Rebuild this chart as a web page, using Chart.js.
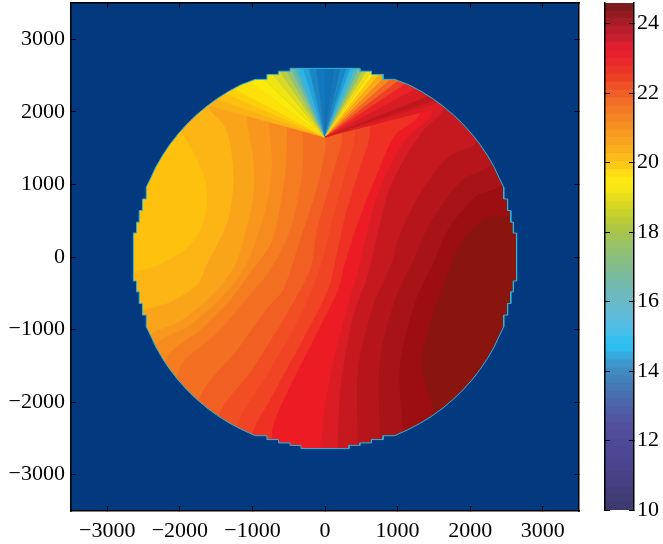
<!DOCTYPE html>
<html>
<head>
<meta charset="utf-8">
<script src="https://cdn.jsdelivr.net/npm/chart.js@4/dist/chart.umd.min.js"></script>
<style>
  html, body { margin: 0; background: #fff; }
  #wrap { position: relative; width: 663px; height: 544px; overflow: hidden; }
  #mapChart { position: absolute; left: 0; top: 0; }
  #barChart { position: absolute; left: 590px; top: 0; }
</style>
</head>
<body>
<div id="wrap">
  <canvas id="mapChart" width="590" height="544"></canvas>
  <canvas id="barChart" width="73" height="544"></canvas>
</div>
<script>
const axisLimit = 3500;
const xTickValues = [-3000, -2000, -1000, 0, 1000, 2000, 3000];
const yTickValues = [-3000, -2000, -1000, 0, 1000, 2000, 3000];
const barTickValues = [10, 12, 14, 16, 18, 20, 22, 24];

// outline of the disc, clockwise from the left, blocky near the axes like the source grid
const discOutline = [
  [-2640,0],[-2640,330],[-2596,330],[-2596,480],[-2560,480],[-2560,640],[-2516,640],[-2516,800],[-2463,800],[-2463,960],
  [-2400,1090],[-2331,1239],[-2239,1399],[-2136,1552],[-2022,1697],[-1899,1834],[-1766,1962],[-1625,2080],[-1476,2189],[-1320,2286],[-1157,2373],
  [-960,2448],[-800,2448],[-800,2516],[-640,2516],[-640,2560],[-480,2560],[-480,2599],
  [480,2599],[480,2560],[640,2560],[640,2516],[800,2516],[800,2448],[960,2448],
  [1157,2373],[1320,2286],[1476,2189],[1625,2080],[1766,1962],[1899,1834],[2022,1697],[2136,1552],[2239,1399],[2331,1239],[2400,1090],
  [2463,960],[2463,800],[2516,800],[2516,640],[2560,640],[2560,480],[2596,480],[2596,330],[2640,330],
  [2640,-330],[2596,-330],[2596,-480],[2560,-480],[2560,-640],[2516,-640],[2516,-800],[2463,-800],[2463,-960],
  [2400,-1090],[2331,-1239],[2239,-1399],[2136,-1552],[2022,-1697],[1899,-1834],[1766,-1962],[1625,-2080],[1476,-2189],[1320,-2286],[1157,-2373],
  [960,-2463],[800,-2463],[800,-2516],[640,-2516],[640,-2562],[480,-2562],[480,-2596],[330,-2596],[330,-2640],
  [-330,-2640],[-330,-2596],[-480,-2596],[-480,-2562],[-640,-2562],[-640,-2516],[-800,-2516],[-800,-2463],[-960,-2463],
  [-1157,-2373],[-1320,-2286],[-1476,-2189],[-1625,-2080],[-1766,-1962],[-1899,-1834],[-2022,-1697],[-2136,-1552],[-2239,-1399],[-2331,-1239],[-2400,-1090],
  [-2463,-960],[-2463,-800],[-2516,-800],[-2516,-640],[-2560,-640],[-2560,-480],[-2596,-480],[-2596,-330],[-2640,-330],[-2640,0]
];

// contour lines, right side first; each one is filled towards the left
const contourD5 = [[2585,619],[2241,550],[1925,275],[1760,-41],[1471,-866],[1334,-1458],[1513,-2241]];
const contourD4 = [[2448,1031],[2063,825],[1691,371],[1513,-41],[1238,-633],[1031,-1513],[1073,-2448]];
const contourD3 = [[2283,1306],[1884,1059],[1471,509],[1238,0],[963,-591],[756,-1416],[756,-2585]];
const contourD2 = [[2104,1609],[1691,1375],[1279,825],[1004,234],[935,-41],[660,-688],[454,-1554],[454,-2654]];
const contourD1 = [[1650,2090],[1334,1719],[1059,1293],[866,880],[715,275],[591,-248],[385,-825],[206,-1870],[179,-2723]];
const contourD0 = [[1471,1994],[1100,1609],[729,880],[564,275],[440,-248],[316,-660],[69,-1650],[-41,-2379],[-69,-2723]];
const contourC11 = [[1306,1980],[963,1678],[756,1238],[481,550],[275,-83],[179,-454],[-69,-963],[-523,-1870],[-729,-2406]];
const contourC10 = [[619,1705],[481,1238],[275,550],[138,-69],[41,-454],[-344,-1210],[-756,-1966],[-1004,-2461]];
const contourC9 = [[413,1678],[303,1238],[110,550],[-41,-69],[-344,-825],[-756,-1554],[-1224,-2379]];
const contourC8 = [[234,1636],[110,1155],[-110,371],[-206,-179],[-578,-866],[-1004,-1554],[-1471,-2214]];
const contourC7 = [[14,1609],[-110,963],[-344,234],[-578,-454],[-784,-688],[-1210,-1279],[-1746,-1994]];
const contourC6 = [[-303,1650],[-316,1155],[-481,371],[-756,-179],[-1128,-633],[-1485,-1045],[-2021,-1581]];
const contourC5 = [[-523,1719],[-550,1155],[-660,468],[-756,165],[-1004,-179],[-1306,-591],[-1719,-1004],[-2200,-1444]];
const contourC4 = [[-770,1788],[-729,1293],[-798,743],[-963,193],[-1128,-179],[-1416,-550],[-1856,-935],[-2365,-1279]];
const contourC3 = [[-1073,1884],[-990,1375],[-990,825],[-1100,330],[-1238,-110],[-1513,-481],[-1966,-866],[-2475,-1169]];
const contourC2 = [[-1609,2090],[-1375,1788],[-1279,1375],[-1265,963],[-1348,468],[-1636,-124],[-1760,-385],[-2131,-619],[-2613,-839]];
const contourC1 = [[-1966,1746],[-1788,1402],[-1650,1059],[-1622,784],[-1678,481],[-1856,165],[-2159,-41],[-2406,-151],[-2750,-289]];

const contourLines = [contourD5, contourD4, contourD3, contourD2, contourD1, contourD0, contourC11, contourC10,
  contourC9, contourC8, contourC7, contourC6, contourC5, contourC4, contourC3, contourC2, contourC1];
const contourColors = ["#9c0e12", "#a81318", "#b6161b", "#c5191f", "#da1d25", "#ed1c24", "#ef3124", "#f04424",
  "#f14e24", "#f25f23", "#f37022", "#f57c20", "#f78c1e", "#f9961d", "#faa41a", "#fdb415", "#fec20e"];
const discBaseColor = "#8a140e";
const outsideColor = "#03397e";

// the fan above the sharp point
const fanApex = [0, 1650];
const fanRayX = [-1609,-1485,-1375,-1265,-1031,-866,-729,-619,-536,-468,-413,-371,-303,-220,-124,0,138,220,303,358,413,468,523,578,633,688,756,839,921,1004,1100,1238,1416,1526,1595,1719];
const fanRayY = [2090,2173,2255,2324,2406,2475,2530,2558,2578,2599,2599,2613,2613,2613,2613,2613,2613,2613,2613,2613,2599,2599,2585,2571,2558,2530,2516,2489,2461,2420,2379,2310,2214,2159,2131,2090];
const fanColors = ["#fbb216","#fdbf10","#fed00c","#fee00a","#f9ea0b","#eee512","#d6da28","#b6cf48","#8fc480","#66bcaa","#45b6cc","#2db4e8",
  "#1da2dc","#1688ca","#1278bd","#0f71b8","#1278bd","#1688ca","#1ca0dc","#2db8ea","#52bcc0","#82c488","#b8d048","#e6df20",
  "#fde40c","#fec80e","#fbaa18","#f68a1e","#f26522","#ee4124","#ea2426","#d81c24","#c0171e","#cf1a21","#de1c24"];

// colour bar
const barEdges = [10,10.23,10.46,10.68,10.91,11.14,11.37,11.6,11.82,12.05,12.28,12.51,12.74,12.96,13.19,13.42,13.65,13.88,14.1,14.33,14.56,14.79,15.02,15.24,15.47,15.7,15.93,16.16,16.38,16.61,16.84,17.07,17.3,17.52,17.75,17.98,18.21,18.44,18.66,18.89,19.12,19.35,19.58,19.8,20.03,20.26,20.49,20.72,20.94,21.17,21.4,21.63,21.86,22.08,22.31,22.54,22.77,23,23.22,23.45,23.68,23.91,24.14,24.36,24.59];
const barColors = ["#3d3a70","#403c76","#423e7c","#444082","#474288","#49448d","#4b4691","#4d4895","#4f4a98","#514d9b","#524f9c","#50569f","#4e5ea4","#4b67aa","#4870b0","#4579b6",
  "#4282bc","#3f8cc3","#3c98cc","#34aadf","#2bbcf0","#34c0ee","#48bfe8","#55bde2","#5fbbda","#66bad0","#6bb9c6","#6fb9ba","#73baac","#78bb9e","#80bc90","#88be82",
  "#90c074","#9ac266","#a3c454","#aec644","#bccc36","#cad22c","#d8d824","#e8df1c","#f6e616","#fee812","#ffdc14","#fec818","#fcbb18","#fbae1c","#f9a21e","#f89a20",
  "#f68f22","#f58424","#f47a26","#f26e28","#f15f28","#ef5026","#ed4126","#eb3428","#e8282b","#e71f2e","#e01e2e","#c81e2e","#b81d2b","#a81c27","#951b22","#7c1a1e"];

const labelFont = { family: "'Liberation Serif', 'Times New Roman', serif", size: 22 };

function toPoints(list) {
  return list.map((p) => ({ x: p[0], y: p[1] }));
}

function shape(points, color, edge, tension) {
  return {
    data: points,
    showLine: true,
    fill: "shape",
    tension: tension || 0,
    pointRadius: 0,
    backgroundColor: color,
    borderColor: color,
    borderWidth: edge
  };
}

// everything left of a contour, running out to the axis limits
function leftOf(line) {
  const first = line[0];
  const last = line[line.length - 1];
  return toPoints([
    [first[0], axisLimit],
    ...line,
    [last[0], -axisLimit],
    [-axisLimit, -axisLimit],
    [-axisLimit, axisLimit]
  ]);
}

function buildMapDatasets() {
  const list = [];
  const corners = [[-axisLimit, -axisLimit], [axisLimit, -axisLimit], [axisLimit, axisLimit], [-axisLimit, axisLimit]];
  list.push(shape(toPoints(corners), discBaseColor, 0));

  contourLines.forEach((line, i) => {
    list.push(shape(leftOf(line), contourColors[i], 0, 0.3));
  });

  fanColors.forEach((color, i) => {
    const pts = [
      fanApex,
      [fanApex[0] + (fanRayX[i] - fanApex[0]) * 1.3, fanApex[1] + (fanRayY[i] - fanApex[1]) * 1.3],
      [fanApex[0] + (fanRayX[i + 1] - fanApex[0]) * 1.3, fanApex[1] + (fanRayY[i + 1] - fanApex[1]) * 1.3]
    ];
    list.push(shape(toPoints(pts), color, 0.5));
  });

  // dark surround with the disc cut out
  const mask = [[-axisLimit, 0], [-axisLimit, -axisLimit], [axisLimit, -axisLimit], [axisLimit, axisLimit], [-axisLimit, axisLimit], [-axisLimit, 0], ...discOutline];
  list.push(shape(toPoints(mask), outsideColor, 0));

  list.push({
    data: toPoints(discOutline),
    showLine: true,
    fill: false,
    tension: 0,
    pointRadius: 0,
    borderColor: "#35b5d0",
    borderWidth: 1
  });

  // first in the datasets array is painted last
  return list.reverse();
}

function fixSize(s, isX, size) {
  if (isX) s.height = size;
  else s.width = size;
  s.paddingTop = 0;
  s.paddingBottom = 0;
  s.paddingLeft = 0;
  s.paddingRight = 0;
}

function frameAxis(axis, position, size) {
  return {
    axis,
    type: "linear",
    position,
    min: -axisLimit,
    max: axisLimit,
    afterBuildTicks: (s) => { s.ticks = xTickValues.map((v) => ({ value: v })); },
    afterFit: (s) => fixSize(s, axis === "x", size),
    ticks: { display: false },
    grid: { drawOnChartArea: false, tickLength: -5, tickColor: "#000", z: 1 },
    border: { display: true, color: "#000", width: 1.5, z: 1 }
  };
}

new Chart(document.getElementById("mapChart"), {
  type: "scatter",
  data: { datasets: buildMapDatasets() },
  options: {
    responsive: false,
    animation: false,
    layout: { padding: { top: 3, right: 11, left: 0, bottom: 0 } },
    plugins: { legend: { display: false }, tooltip: { enabled: false } },
    scales: {
      x: {
        ...frameAxis("x", "bottom", 33),
        afterBuildTicks: (s) => { s.ticks = xTickValues.map((v) => ({ value: v })); },
        ticks: {
          autoSkip: false, maxRotation: 0, padding: 12, color: "#000", font: labelFont,
          callback: (v) => String(v).replace("-", "\u2212")
        }
      },
      y: {
        ...frameAxis("y", "left", 71),
        afterBuildTicks: (s) => { s.ticks = yTickValues.map((v) => ({ value: v })); },
        ticks: {
          autoSkip: false, padding: 11, color: "#000", font: labelFont,
          callback: (v) => String(v).replace("-", "\u2212")
        }
      },
      xTop: frameAxis("x", "top", 0),
      yRight: frameAxis("y", "right", 0)
    }
  }
});

new Chart(document.getElementById("barChart"), {
  type: "bar",
  data: {
    labels: [""],
    datasets: barColors.map((color, i) => ({
      data: [[barEdges[i], barEdges[i + 1]]],
      backgroundColor: color,
      grouped: false,
      barPercentage: 1,
      categoryPercentage: 1
    }))
  },
  options: {
    responsive: false,
    animation: false,
    layout: { padding: { top: 3, bottom: 34, left: 0, right: 0 } },
    plugins: { legend: { display: false }, tooltip: { enabled: false } },
    scales: {
      x: { display: false },
      y: {
        position: "right",
        min: 10,
        max: 24.59,
        afterBuildTicks: (s) => { s.ticks = barTickValues.map((v) => ({ value: v })); },
        afterFit: (s) => fixSize(s, false, 29),
        ticks: { autoSkip: false, padding: 8, color: "#000", font: labelFont },
        grid: { drawOnChartArea: false, tickLength: -5, tickColor: "#000", z: 1 },
        border: { display: true, color: "#000", width: 1.5, z: 1 }
      },
      yLeft: {
        axis: "y",
        position: "left",
        min: 10,
        max: 24.59,
        afterBuildTicks: (s) => { s.ticks = barTickValues.map((v) => ({ value: v })); },
        afterFit: (s) => fixSize(s, false, 15),
        ticks: { display: false },
        grid: { drawOnChartArea: false, tickLength: -5, tickColor: "#000", z: 1 },
        border: { display: true, color: "#000", width: 1.5, z: 1 }
      }
    }
  }
});
</script>
</body>
</html>
